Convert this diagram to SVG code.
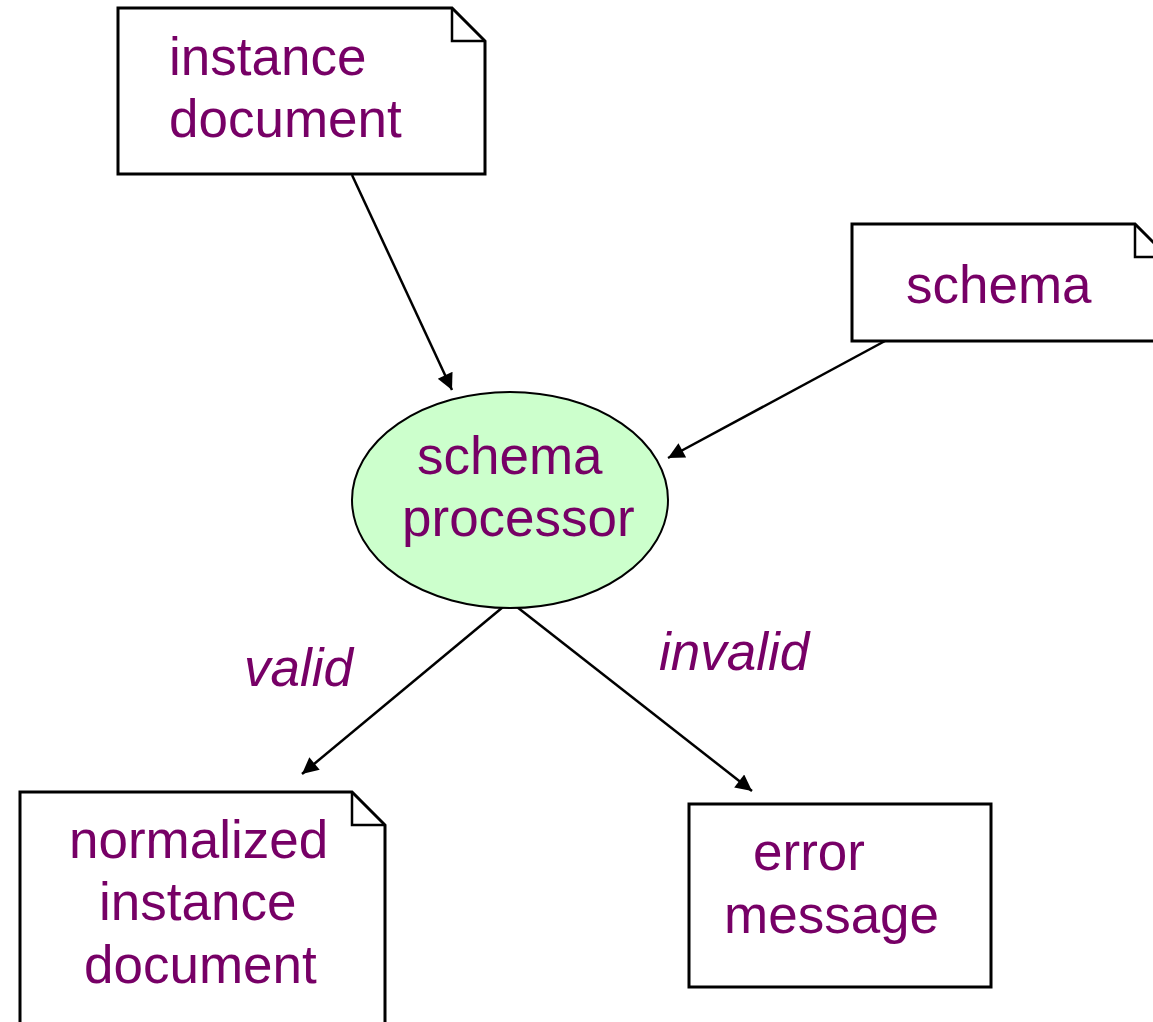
<svg xmlns="http://www.w3.org/2000/svg" width="1153" height="1022" viewBox="0 0 1153 1022">
  <style>
    .doc { fill: #ffffff; stroke: #000000; stroke-width: 3; stroke-linejoin: miter; }
    .fold { fill: none; stroke: #000000; stroke-width: 2.5; }
    .proc { fill: #ccffcc; stroke: #000000; stroke-width: 2; }
    .lbl { font-family: "Liberation Sans", Arial, sans-serif; font-size: 53px; fill: #770066; }
    .edge-lbl { font-family: "Liberation Sans", Arial, sans-serif; font-size: 53px; font-style: italic; fill: #770066; }
    .conn { stroke: #000000; stroke-width: 2.5; fill: none; marker-end: url(#arrow); }
  </style>
  <defs>
    <marker id="arrow" viewBox="0 0 10 10" refX="10" refY="5" markerWidth="8" markerHeight="6.5" markerUnits="strokeWidth" orient="auto">
      <path d="M0,0 L10,5 L0,10 Z" fill="#000000"/>
    </marker>
  </defs>
  <rect width="1153" height="1022" fill="#ffffff"/>

  <g id="connectors">
    <line class="conn" x1="352" y1="175" x2="452" y2="390"/>
    <line class="conn" x1="885" y1="341" x2="668" y2="458"/>
    <line class="conn" x1="503" y1="607" x2="302" y2="774"/>
    <line class="conn" x1="517" y1="607" x2="752" y2="791"/>
    <text class="edge-lbl" x="244" y="686">valid</text>
    <text class="edge-lbl" x="659" y="670">invalid</text>
  </g>

  <g id="instance-document">
    <path class="doc" d="M118,8 H452 L485,41 V174 H118 Z"/>
    <path class="fold" d="M452,8 V41 H485"/>
    <text class="lbl" x="169" y="75">instance</text>
    <text class="lbl" x="169" y="137">document</text>
  </g>

  <g id="schema">
    <path class="doc" d="M852,224 H1135 L1168,257 V341 H852 Z"/>
    <path class="fold" d="M1135,224 V257 H1168"/>
    <text class="lbl" x="906" y="303">schema</text>
  </g>

  <g id="schema-processor">
    <ellipse class="proc" cx="510" cy="500" rx="158" ry="108"/>
    <text class="lbl" x="417" y="474">schema</text>
    <text class="lbl" x="402" y="536">processor</text>
  </g>

  <g id="normalized-instance-document">
    <path class="doc" d="M20,792 H352 L385,825 V1040 H20 Z"/>
    <path class="fold" d="M352,792 V825 H385"/>
    <text class="lbl" x="69" y="858">normalized</text>
    <text class="lbl" x="99" y="920">instance</text>
    <text class="lbl" x="84" y="983">document</text>
  </g>

  <g id="error-message">
    <rect class="doc" x="689" y="804" width="302" height="183"/>
    <text class="lbl" x="753" y="870">error</text>
    <text class="lbl" x="724" y="933">message</text>
  </g>
</svg>
